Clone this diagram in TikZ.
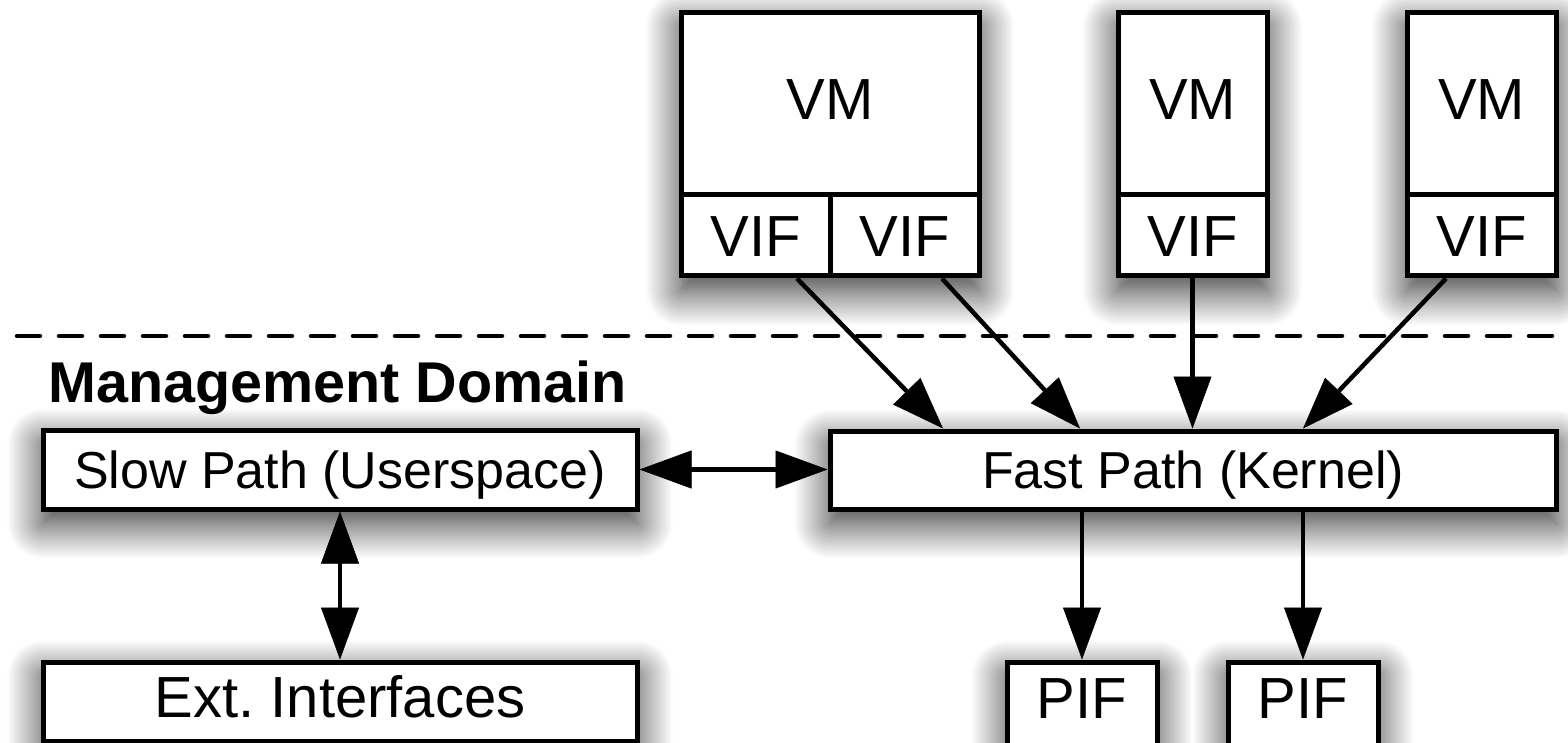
\documentclass[tikz,border=0pt]{standalone}
\usepackage{fontspec}
\setmainfont{Liberation Sans}
\usetikzlibrary{arrows.meta,shadows.blur,calc}
\begin{document}
\begin{tikzpicture}[x=1pt,y=-1pt,
  bx/.style={draw=black, fill=white, line width=5pt, inner sep=0pt,
    text height=41.8pt, text depth=0pt, font=\fontsize{58}{60}\selectfont},
  sm/.style={font=\fontsize{52}{54}\selectfont, text height=37.4pt},
  shd/.style={blur shadow={shadow xshift=0pt, shadow yshift=-14pt,
    shadow blur radius=36pt, shadow blur steps=24, shadow opacity=85}},
  conn/.style={draw=black, line width=4.5pt, -{Triangle[length=52pt,width=38pt,fill=black,line width=0.5pt]}},
  dconn/.style={draw=black, line width=4.5pt, {Triangle[length=52pt,width=38pt,fill=black,line width=0.5pt]}-{Triangle[length=52pt,width=38pt,fill=black,line width=0.5pt]}},
  sepline/.style={line width=4.5pt, dash pattern=on 23pt off 19pt, line cap=round}
]
\useasboundingbox (0,0) rectangle (1568,743);
% shadows
\path[shd] (681,13) rectangle (979,276);
\path[shd] (1118,13) rectangle (1267,276);
\path[shd] (1407,13) rectangle (1556,276);
\path[shd] (43,430) rectangle (637,509);
\path[shd] (830,431) rectangle (1556,509);
\path[shd] (43,662) rectangle (637,741);
\path[shd] (1007,662) rectangle (1157,752);
\path[shd] (1228,662) rectangle (1378,752);
% separator
\coordinate (dl) at (17,336);
\coordinate (dr) at (1575,336);
\draw[sepline] (dl) -- (dr);
% VMs
\node[bx, minimum width=298pt, minimum height=182pt, text depth=10pt] (vm1) at (830,104) {VM};
\node[bx, minimum width=149pt, minimum height=81pt] (vif1a) at (755.5,235.5) {VIF};
\node[bx, minimum width=149pt, minimum height=81pt] (vif1b) at (904.5,235.5) {VIF};
\node[bx, minimum width=149pt, minimum height=182pt, text depth=10pt] (vm2) at (1192.5,104) {VM};
\node[bx, minimum width=149pt, minimum height=81pt] (vif2) at (1192.5,235.5) {VIF};
\node[bx, minimum width=149pt, minimum height=182pt, text depth=10pt] (vm3) at (1481.5,104) {VM};
\node[bx, minimum width=149pt, minimum height=81pt] (vif3) at (1481.5,235.5) {VIF};
% management domain
\node[anchor=base west, inner sep=0pt, font=\bfseries\fontsize{57.5}{60}\selectfont] (md) at (48,402) {Management Domain};
\node[bx, sm, minimum width=594pt, minimum height=79pt] (slow) at (340,469.5) {Slow Path (Userspace)};
\node[bx, sm, minimum width=726pt, minimum height=78pt] (fast) at (1193,470) {Fast Path (Kernel)};
\node[bx, minimum width=594pt, minimum height=79pt, text depth=9pt] (ext) at (340,701.5) {Ext.\ Interfaces};
\node[bx, minimum width=150pt, minimum height=90pt, text depth=18pt] (pif1) at (1082,707) {PIF};
\node[bx, minimum width=150pt, minimum height=90pt, text depth=18pt] (pif2) at (1303,707) {PIF};
% connectors
\draw[conn] ([xshift=41.5pt]vif1a.south) -- ([xshift=-250pt]fast.north);
\draw[conn] ([xshift=37.5pt]vif1b.south) -- ([xshift=-113pt]fast.north);
\draw[conn] (vif2.south) -- (vif2.south |- fast.north);
\draw[conn] ([xshift=-35.5pt]vif3.south) -- ([xshift=110pt]fast.north);
\draw[dconn] (slow.east) -- (slow.east -| fast.west);
\draw[dconn] (slow.south) -- (ext.north);
\draw[conn] (pif1.north |- fast.south) -- (pif1.north);
\draw[conn] (pif2.north |- fast.south) -- (pif2.north);
\end{tikzpicture}
\end{document}
